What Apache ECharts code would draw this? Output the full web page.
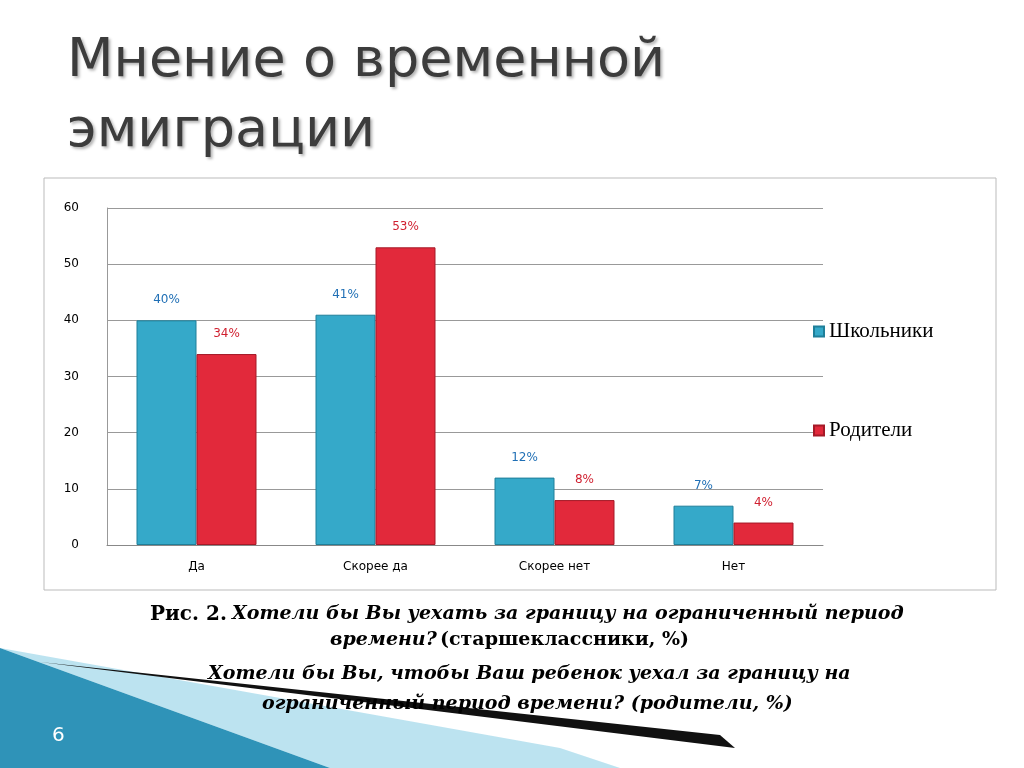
<!DOCTYPE html>
<html><head><meta charset="utf-8">
<script src="https://cdn.jsdelivr.net/npm/echarts@6/dist/echarts.min.js"></script>
<style>html,body{margin:0;padding:0;background:#fff}#c{width:1024px;height:768px}</style>
</head><body><div id="c"></div>
<script>
const categories = ['Да', 'Скорее да', 'Скорее нет', 'Нет'];
const pupils = [40, 41, 12, 7];
const parents = [34, 53, 8, 4];
const yTicks = [0, 10, 20, 30, 40, 50, 60];

const chart = echarts.init(document.getElementById('c'));
chart.setOption({
  animation: false,
  title: {
    text: 'Мнение о временной\nэмиграции',
    left: 62, top: 22,
    textStyle: { fontFamily: 'DejaVu Sans', fontSize: 54, fontWeight: 'normal', color: '#3c3c3c', lineHeight: 70,
      textShadowColor: 'rgba(0,0,0,0.3)', textShadowBlur: 3, textShadowOffsetX: 2, textShadowOffsetY: 2 }
  },
  legend: {
    orient: 'vertical', left: 808, top: 316, itemGap: 78, itemWidth: 10, itemHeight: 10, icon: 'rect',
    textStyle: { fontFamily: 'Liberation Serif', fontSize: 21, color: '#000' },
    data: ['Школьники', 'Родители']
  },
  grid: { left: 107, width: 716, top: 208, bottom: 223 },
  xAxis: {
    type: 'category', data: categories,
    axisLine: { lineStyle: { color: '#888' } }, axisTick: { show: false },
    axisLabel: { fontFamily: 'DejaVu Sans', fontSize: 12, color: '#000', margin: 16 }
  },
  yAxis: {
    type: 'value', min: 0, max: 60, interval: 10,
    axisLine: { show: true, lineStyle: { color: '#999' } },
    splitLine: { lineStyle: { color: '#999' } },
    axisLabel: { fontFamily: 'DejaVu Sans', fontSize: 12, color: '#000', margin: 28 }
  },
  series: [
    { name: 'Школьники', type: 'bar', data: pupils, barWidth: 60, barGap: '0%',
      itemStyle: { color: '#35a9c9', borderColor: '#1f7f99', borderWidth: 1 },
      label: { show: true, position: 'top', distance: 14, formatter: '{c}%', color: '#1f6fb5', fontFamily: 'DejaVu Sans', fontSize: 12 } },
    { name: 'Родители', type: 'bar', data: parents, barWidth: 60,
      itemStyle: { color: '#e2293b', borderColor: '#a51a28', borderWidth: 1 },
      label: { show: true, position: 'top', distance: 14, formatter: '{c}%', color: '#d01f2f', fontFamily: 'DejaVu Sans', fontSize: 12 } }
  ],
  graphic: [
    { type: 'rect', shape: { x: 44, y: 178, width: 952, height: 412 }, style: { fill: 'none', stroke: '#bbb', lineWidth: 1 }, z: -1 },
    { type: 'polygon', shape: { points: [[0,648],[0,768],[330,768]] }, style: { fill: '#2f93b8' }, z: -2 },
    { type: 'polygon', shape: { points: [[0,648],[560,748],[620,768],[330,768]] }, style: { fill: '#8fd0e6', opacity: 0.6 }, z: -3 },
    { type: 'polygon', shape: { points: [[40,662],[720,735],[735,748]] }, style: { fill: '#111' }, z: -1 },
    { type: 'text', left: 52, top: 726, style: { text: '6', fill: '#fff', fontSize: 20, fontFamily: 'DejaVu Sans' } },
    { type: 'text', left: 150, top: 605, style: { text: 'Рис. 2. ', fill: '#000', font: 'bold 20px "DejaVu Serif"' } },
    { type: 'text', left: 232, top: 605, style: { text: 'Хотели бы Вы уехать за границу на ограниченный период', fill: '#000', font: 'italic bold 19px "DejaVu Serif"' } },
    { type: 'text', left: 330, top: 631, style: { text: 'времени?', fill: '#000', font: 'italic bold 19px "DejaVu Serif"' } },
    { type: 'text', left: 440, top: 631, style: { text: '(старшеклассники, %)', fill: '#000', font: 'bold 19px "DejaVu Serif"' } },
    { type: 'text', left: 208, top: 665, style: { text: 'Хотели бы Вы, чтобы Ваш ребенок уехал за границу на', fill: '#000', font: 'italic bold 19px "DejaVu Serif"' } },
    { type: 'text', left: 262, top: 695, style: { text: 'ограниченный период времени? (родители, %)', fill: '#000', font: 'italic bold 19px "DejaVu Serif"' } }
  ]
});
</script></body></html>
